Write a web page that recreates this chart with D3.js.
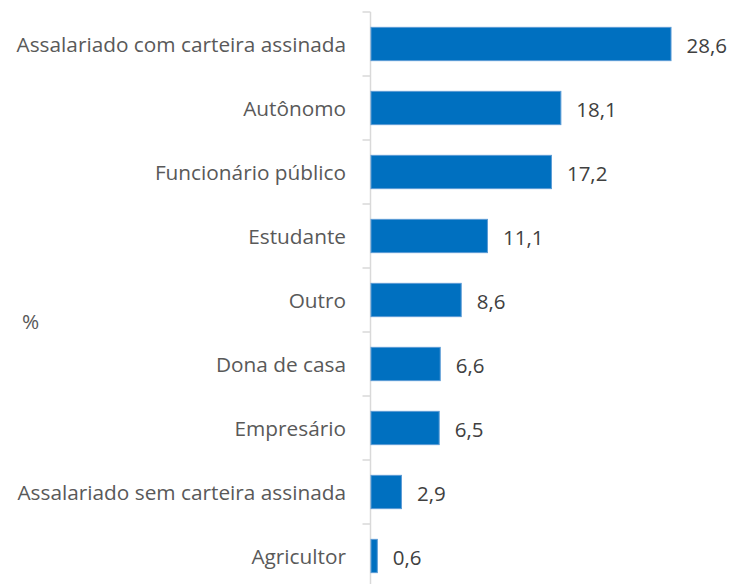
<!DOCTYPE html>
<meta charset="utf-8">
<style>
body { margin: 0; background: #fff; }
svg { font-family: "Open Sans", sans-serif; }
.cat { font-size: 20.8px; fill: #595959; }
.val { font-size: 20.5px; fill: #404040; }
</style>
<body>
<script src="https://d3js.org/d3.v7.min.js"></script>
<script>

var categories = ["Assalariado com carteira assinada", "Autônomo", "Funcionário público",
  "Estudante", "Outro", "Dona de casa", "Empresário",
  "Assalariado sem carteira assinada", "Agricultor"];
var values = [28.6, 18.1, 17.2, 11.1, 8.6, 6.6, 6.5, 2.9, 0.6];
var unitLabel = "%";

var width = 736, height = 584;
var x0 = 370.5;

var svg = d3.select("body").append("svg")
    .attr("width", width)
    .attr("height", height);

var x = d3.scaleLinear()
    .domain([0, 30])
    .range([x0, x0 + 314.7]);

var y = d3.scaleBand()
    .domain(categories)
    .range([12, 588])
    .paddingInner(0.48)
    .paddingOuter(0.24);

// axis line + ticks between bands
svg.append("line")
    .attr("x1", x0).attr("x2", x0)
    .attr("y1", 12).attr("y2", height)
    .attr("stroke", "#d9d9d9").attr("stroke-width", 1.5);

var step = y.step();
svg.selectAll(".tick")
    .data(d3.range(categories.length + 1))
  .enter().append("line")
    .attr("x1", x0 - 8).attr("x2", x0)
    .attr("y1", function(i) { return 12 + i * step; })
    .attr("y2", function(i) { return 12 + i * step; })
    .attr("stroke", "#d9d9d9").attr("stroke-width", 1.5);

svg.selectAll(".bar")
    .data(values)
  .enter().append("rect")
    .attr("x", x(0) + 0.5)
    .attr("y", function(d, i) { return y(categories[i]); })
    .attr("width", function(d) { return x(d) - x(0); })
    .attr("height", y.bandwidth())
    .attr("fill", "#0070c0")
    .attr("stroke", "#5b9bd5")
    .attr("stroke-width", 1);

svg.selectAll(".val")
    .data(values)
  .enter().append("text")
    .attr("class", "val")
    .attr("x", function(d) { return x(d) + 16; })
    .attr("y", function(d, i) { return y(categories[i]) + y.bandwidth() / 2 + 9; })
    .text(function(d) { return d.toFixed(1).replace(".", ","); });

svg.selectAll(".cat")
    .data(categories)
  .enter().append("text")
    .attr("class", "cat")
    .attr("x", 346)
    .attr("y", function(d) { return y(d) + y.bandwidth() / 2 + 7.5; })
    .attr("text-anchor", "end")
    .text(function(d) { return d; });

svg.append("text")
    .attr("class", "cat")
    .attr("x", 22)
    .attr("y", 329)
    .text(unitLabel);

</script>
</body>
